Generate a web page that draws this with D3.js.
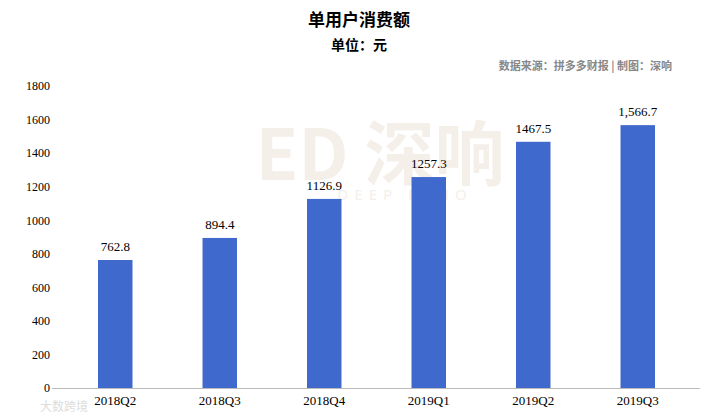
<!DOCTYPE html>
<html><head><meta charset="utf-8">
<script src="https://cdn.jsdelivr.net/npm/d3@7"></script>
<style>body{margin:0;background:#fff}</style>
</head><body><div id="stage" style="width:718px;height:416px"></div>
<script>
const categories = ["2018Q2", "2018Q3", "2018Q4", "2019Q1", "2019Q2", "2019Q3"];
const values = [762.8, 894.4, 1126.9, 1257.3, 1467.5, 1566.7];
const valueLabels = ["762.8", "894.4", "1126.9", "1257.3", "1467.5", "1,566.7"];
const yTicks = [0, 200, 400, 600, 800, 1000, 1200, 1400, 1600, 1800];

const width = 718, height = 416;
const svg = d3.select("#stage").append("svg")
  .attr("width", width).attr("height", height);

const x = d3.scaleBand().domain(categories).range([63, 690])
  .paddingInner(0.67).paddingOuter(0.335);
const y = d3.scaleLinear().domain([0, 1800]).range([388, 86]);

// watermark
svg.append("text").attr("x", 380).attr("y", 180).attr("text-anchor", "middle")
  .attr("font-family", "Noto Sans CJK SC").attr("font-size", 70).attr("font-weight", "bold")
  .attr("fill", "#f5efe9").text("ED 深响");
svg.append("text").attr("x", 405).attr("y", 200).attr("text-anchor", "middle")
  .attr("font-family", "Noto Sans").attr("font-size", 15).attr("letter-spacing", 6)
  .attr("fill", "#f5efe9").text("DEEP ECHO");

svg.append("text").attr("x", 359).attr("y", 26).attr("text-anchor", "middle")
  .attr("font-family", "Noto Sans CJK SC").attr("font-weight", "bold").attr("font-size", 17)
  .text("单用户消费额");
svg.append("text").attr("x", 359).attr("y", 50).attr("text-anchor", "middle")
  .attr("font-family", "Noto Sans CJK SC").attr("font-weight", "bold").attr("font-size", 14)
  .text("单位：元");
svg.append("text").attr("x", 672).attr("y", 70).attr("text-anchor", "end")
  .attr("font-family", "Noto Sans CJK SC").attr("font-weight", "bold").attr("font-size", 11)
  .attr("fill", "#888").text("数据来源：拼多多财报 | 制图：深响");

svg.selectAll(".bar").data(values).join("rect")
  .attr("x", (d, i) => x(categories[i])).attr("width", x.bandwidth())
  .attr("y", d => y(d)).attr("height", d => y(0) - y(d))
  .attr("fill", "#4069cd");

svg.selectAll(".lbl").data(values).join("text")
  .attr("x", (d, i) => x(categories[i]) + x.bandwidth() / 2)
  .attr("y", d => y(d) - 9).attr("text-anchor", "middle")
  .attr("font-family", "Liberation Serif").attr("font-size", 13)
  .text((d, i) => valueLabels[i]);

const yAxis = svg.append("g").attr("transform", "translate(52,0)")
  .call(d3.axisLeft(y).tickValues(yTicks).tickFormat(d3.format("d")).tickSize(0).tickPadding(2));
yAxis.select(".domain").remove();
yAxis.selectAll("text").attr("font-family", "Liberation Serif").attr("font-size", 12).attr("fill", "#000");

const xAxis = svg.append("g").attr("transform", "translate(0,388)")
  .call(d3.axisBottom(x).tickSize(0).tickPadding(8));
xAxis.select(".domain").attr("stroke", "#bbb").attr("d", "M52,0.5H700");
xAxis.selectAll("text").attr("font-family", "Liberation Serif").attr("font-size", 13).attr("fill", "#000");

svg.append("text").attr("x", 40).attr("y", 411)
  .attr("font-family", "Noto Sans CJK SC").attr("font-size", 12)
  .attr("fill", "#ddd").text("大数跨境");
</script></body></html>
